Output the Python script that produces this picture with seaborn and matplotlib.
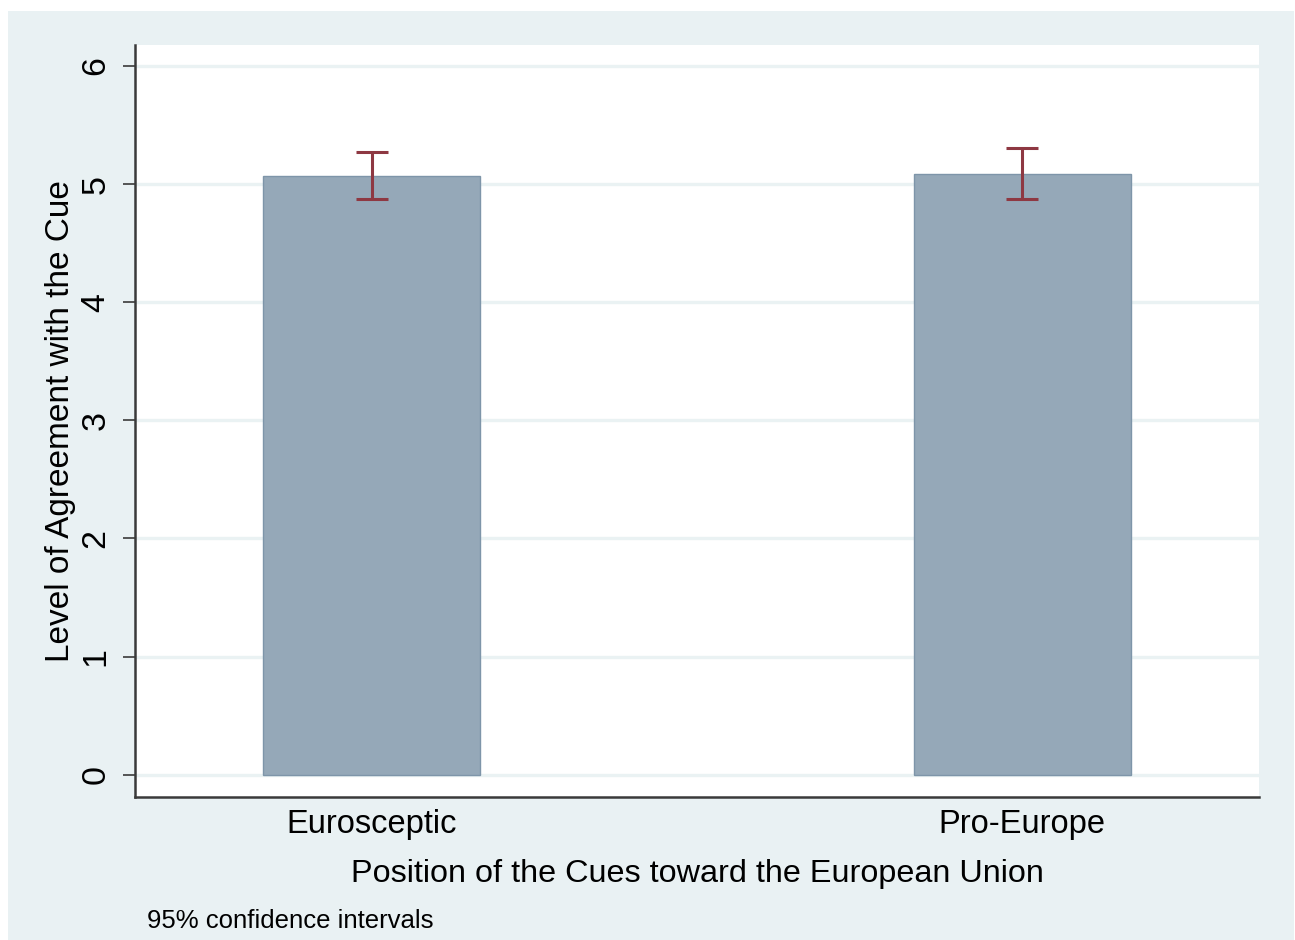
import matplotlib
matplotlib.use("Agg")
import matplotlib.pyplot as plt
from matplotlib.patches import Rectangle
import seaborn as sns
import pandas as pd
import numpy as np

# Mean agreement by cue position, with 95% confidence bounds
categories = ["Eurosceptic", "Pro-Europe"]
means = [5.07, 5.09]
ci_low = [4.87, 4.87]
ci_high = [5.27, 5.31]
yticks = [0, 1, 2, 3, 4, 5, 6]

df = pd.DataFrame({"position": categories, "agreement": means})

sns.set_theme(style="white")
plt.rcParams["font.family"] = ["Liberation Sans", "DejaVu Sans"]

bg = "#E9F1F3"
fig = plt.figure(figsize=(12.95, 9.40), dpi=100, facecolor="white")
# Stata-style outer panel
fig.patches.append(Rectangle((8 / 1295, 0), 1286 / 1295, 1 - 11 / 940,
                             transform=fig.transFigure, facecolor=bg,
                             edgecolor="none", zorder=-5))

ax = fig.add_axes([135 / 1295, 1 - 797 / 940, 1124 / 1295, 752 / 940])
ax.set_facecolor("white")

sns.barplot(data=df, x="position", y="agreement", ax=ax, errorbar=None,
            color="#95A8B8", width=0.3336, saturation=1,
            edgecolor="#7E95A9", linewidth=1.0, zorder=3)

m = np.array(means)
yerr = np.vstack([m - np.array(ci_low), np.array(ci_high) - m])
ax.errorbar(np.arange(len(categories)), m, yerr=yerr, fmt="none",
            ecolor="#8E3842", elinewidth=2.2, capsize=11.5, capthick=2.2,
            zorder=4)

ax.set_xlim(-0.3636, 1.364)
ax.set_ylim(-0.189, 6.178)
ax.set_yticks(yticks)
ax.set_yticklabels([str(v) for v in yticks], rotation=90, va="center",
                   fontsize=24.5)
ax.yaxis.grid(True, color="#EAF2F3", linewidth=2.4, zorder=0)
ax.set_axisbelow(True)

for s in ["top", "right"]:
    ax.spines[s].set_visible(False)
for s in ["left", "bottom"]:
    ax.spines[s].set_color("#3A3A3A")
    ax.spines[s].set_linewidth(1.8)

ax.tick_params(axis="y", length=9, width=1.2, color="#3A3A3A", pad=8,
               labelcolor="black", left=True)
ax.tick_params(axis="x", length=0, pad=9, labelsize=23.5, labelcolor="black")

ax.set_xlabel("Position of the Cues toward the European Union",
              fontsize=23.3, color="black", labelpad=13)
ax.set_ylabel("Level of Agreement with the Cue", fontsize=24,
              color="black", labelpad=3)

fig.text(147 / 1295, 1 - 921 / 940, "95% confidence intervals",
         fontsize=18.5, color="black", va="center", ha="left")

fig.savefig("out.png", dpi=100, facecolor=fig.get_facecolor())
